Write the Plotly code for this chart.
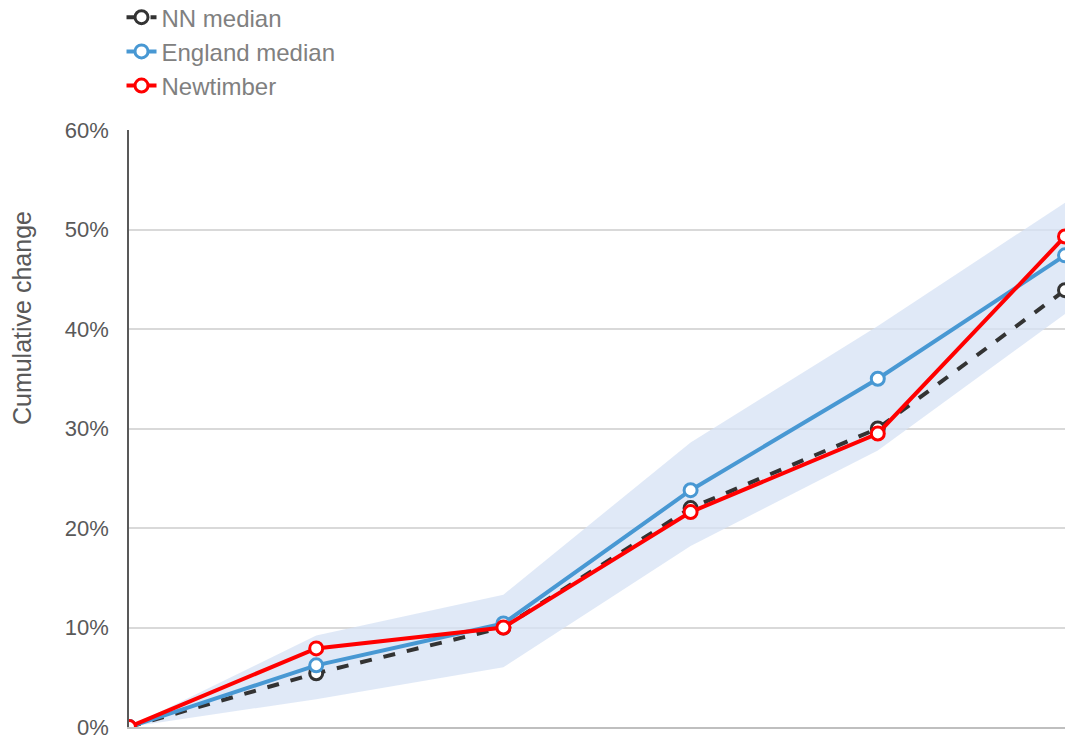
import plotly.graph_objects as go

# x positions of the observation points (labels cut off in the source)
periods = [0, 1, 2, 3, 4, 5]

# cumulative change, %
nn_median = [0, 5.4, 10.0, 22.0, 30.0, 43.9]
england_median = [0, 6.2, 10.4, 23.8, 35.0, 47.4]
newtimber = [0, 7.9, 10.0, 21.6, 29.5, 49.3]

# England spread band
band_upper = [0, 9.2, 13.3, 28.6, 40.3, 52.7]
band_lower = [0, 2.8, 6.0, 18.2, 27.8, 41.5]

y_ticks = [0, 10, 20, 30, 40, 50, 60]

fig = go.Figure()

# --- band (upper then lower, filled between) ---
fig.add_trace(go.Scatter(
    x=periods, y=band_upper, mode='lines', line=dict(width=0),
    hoverinfo='skip', showlegend=False
))
fig.add_trace(go.Scatter(
    x=periods, y=band_lower, mode='lines', line=dict(width=0),
    fill='tonexty', fillcolor='rgba(214,226,244,0.75)',
    hoverinfo='skip', showlegend=False
))

# --- series ---
fig.add_trace(go.Scatter(
    x=periods, y=nn_median, mode='lines+markers', name='NN median',
    line=dict(color='#333333', width=4, dash='dash'),
    marker=dict(size=13, color='white', line=dict(color='#333333', width=3))
))
fig.add_trace(go.Scatter(
    x=periods, y=england_median, mode='lines+markers', name='England median',
    line=dict(color='#4898d3', width=4),
    marker=dict(size=13, color='white', line=dict(color='#4898d3', width=3))
))
fig.add_trace(go.Scatter(
    x=periods, y=newtimber, mode='lines+markers', name='Newtimber',
    line=dict(color='#ff0000', width=4),
    marker=dict(size=13, color='white', line=dict(color='#ff0000', width=3))
))

# y title sits above the plot centre in the source, so place it by hand
fig.add_annotation(
    text='Cumulative change', textangle=-90,
    xref='paper', yref='paper', x=-0.1143, y=0.685,
    xanchor='center', yanchor='middle', showarrow=False,
    font=dict(size=25, color='#595959'),
)

fig.update_layout(
    width=1065, height=738,
    paper_bgcolor='white', plot_bgcolor='white',
    font=dict(family='Liberation Sans, Arial, sans-serif', size=22, color='#595959'),
    margin=dict(l=129, r=0, t=130, b=11, autoexpand=False),
    showlegend=True,
    legend=dict(
        x=-0.008, y=1.226, xanchor='left', yanchor='top', yref='paper',
        traceorder='normal',
        font=dict(size=24, color='#808080'),
        bgcolor='rgba(0,0,0,0)', tracegroupgap=0, itemwidth=30,
    ),
    xaxis=dict(
        range=[0, 5], showgrid=False, zeroline=False,
        showticklabels=False, ticks='', automargin=False,
        showline=True, linecolor='#bfbfbf', linewidth=1.5,
    ),
    yaxis=dict(
        range=[0, 60], tickvals=y_ticks,
        ticktext=[f'{v}%' for v in y_ticks],
        showgrid=True, gridcolor='#d9d9d9', gridwidth=1.5,
        zeroline=False, showline=True, linecolor='#595959', linewidth=1.5,
        ticks='', ticklabelstandoff=14, ticklabeloverflow='allow', automargin=False,
    ),
)

fig.write_html(
    "out.html",
    config={'displayModeBar': False},
    post_script="document.body.style.margin='0px';document.body.style.overflow='hidden';",
)
